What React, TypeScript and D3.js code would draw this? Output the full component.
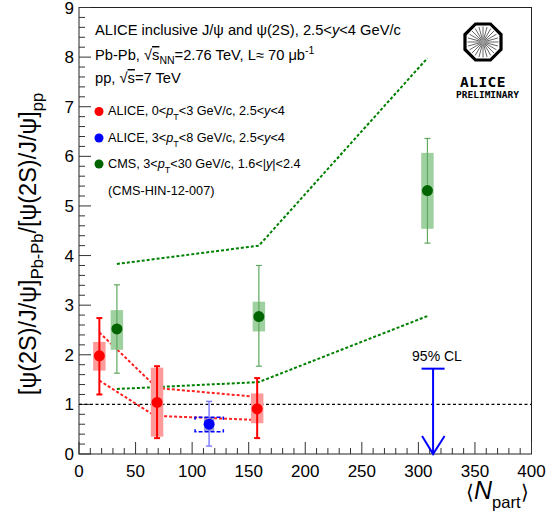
import React from "react";
import * as d3 from "d3";

// ---- data ----
const aliceLowNpart = [18, 69, 157.5];
const aliceLowVal = [1.98, 1.04, 0.91];
const aliceLowStatLo = [1.2, 0.32, 0.32];
const aliceLowStatHi = [2.74, 1.77, 1.53];
const aliceLowSysLo = [1.68, 0.35, 0.62];
const aliceLowSysHi = [2.26, 1.74, 1.22];

const aliceHighNpart = [115];
const aliceHighVal = [0.6];
const aliceHighStatLo = [0.16];
const aliceHighStatHi = [1.06];
const aliceHighSysLo = [0.45];
const aliceHighSysHi = [0.74];
const aliceHighSysNLo = [102.6];
const aliceHighSysNHi = [127.6];

const limitNpart = [313];
const limitVal = [1.72];

const cmsNpart = [33.5, 159, 308];
const cmsVal = [2.52, 2.77, 5.31];
const cmsStatLo = [1.63, 1.77, 4.25];
const cmsStatHi = [3.41, 3.8, 6.36];
const cmsSysLo = [2.1, 2.47, 4.54];
const cmsSysHi = [2.9, 3.07, 6.07];

const cmsUpperN = [33.5, 159, 308];
const cmsUpperV = [3.83, 4.2, 7.98];
const cmsLowerN = [33.5, 159, 308];
const cmsLowerV = [1.31, 1.45, 2.78];
const aliceUpperN = [18, 69, 153];
const aliceUpperV = [2.45, 1.33, 1.16];
const aliceLowerN = [18, 67, 153];
const aliceLowerV = [1.48, 0.77, 0.69];

const xTicks = [0, 50, 100, 150, 200, 250, 300, 350, 400];
const yTicks = [0, 1, 2, 3, 4, 5, 6, 7, 8, 9];

const W = 550, H = 512;
const L = 79, R = 531.5, T = 7.5, B = 454;

const x = d3.scaleLinear().domain([0, 400]).range([L, R]);
const y = d3.scaleLinear().domain([0, 9]).range([B, T]);

const FONT = "'Liberation Sans', Arial, Helvetica, sans-serif";

const RED = "#ff0000";
const RED_BOX = "#ff9a9a";
const GREEN = "#006400";
const GREEN_BOX = "#9fd09f";
const GREEN_ERR = "#5fa85f";
const BLUE = "#0000ff";

function line(ns: number[], vs: number[]) {
  return d3.line<number>().x((_, i) => x(ns[i])).y((v) => y(v))(vs) || "";
}

export default function App() {
  const xMinor = d3.range(0, 401, 10);
  const yMinor = d3.range(0, 9.001, 0.2);
  const halfBox = 5.5; // Npart units
  const cap = 3;

  const spokes = d3.range(0, 24).map((i) => (i * Math.PI * 2) / 24);
  const cx = 483, cy = 42, rOct = 19.5;
  const oct = d3.range(0, 8).map((i) => {
    const a = Math.PI / 8 + (i * Math.PI) / 4;
    return [cx + rOct * Math.cos(a), cy + rOct * Math.sin(a)];
  });

  return (
    <svg width={W} height={H} style={{ position: "absolute", left: 0, top: 0, background: "#fff" }} fontFamily={FONT}>
      <rect x={0} y={0} width={W} height={H} fill="#fff" />
      {/* frame */}
      <rect x={L} y={T} width={R - L} height={B - T} fill="none" stroke="#222" strokeWidth={1} />

      {/* ticks */}
      {xMinor.map((v) => (
        <line key={"xm" + v} x1={x(v)} x2={x(v)} y1={B} y2={B - (v % 50 === 0 ? 12 : 6)} stroke="#333" strokeWidth={1} />
      ))}
      {yMinor.map((v, i) => (
        <line key={"ym" + i} x1={L} x2={L + (i % 5 === 0 ? 12 : 6)} y1={y(v)} y2={y(v)} stroke="#333" strokeWidth={1} />
      ))}
      {xTicks.map((v) => (
        <text key={"xt" + v} x={x(v)} y={477} fontSize={17} textAnchor="middle">{v}</text>
      ))}
      {yTicks.map((v) => (
        <text key={"yt" + v} x={74} y={y(v) + 6} fontSize={17} textAnchor="end">{v}</text>
      ))}

      {/* axis titles */}
      <text x={466} y={499} fontSize={25}>
        <tspan fontSize={20}>⟨</tspan>
        <tspan fontStyle="italic">N</tspan>
        <tspan fontSize={16.5} dy={9}>part</tspan>
        <tspan fontSize={20} dy={-9}>⟩</tspan>
      </text>
      <text transform={`translate(36,${244}) rotate(-90)`} fontSize={23.5} textAnchor="middle">
        [ψ(2S)/J/ψ]<tspan fontSize={16.5} dy={7}>Pb-Pb</tspan>
        <tspan dy={-7}>/[ψ(2S)/J/ψ]</tspan>
        <tspan fontSize={16.5} dy={7}>pp</tspan>
      </text>

      {/* reference line at 1 */}
      <line x1={L} x2={R} y1={y(1)} y2={y(1)} stroke="#000" strokeWidth={1.2} strokeDasharray="3,2.5" />

      {/* model bands */}
      <path d={line(cmsUpperN, cmsUpperV)} fill="none" stroke="#008000" strokeWidth={2} strokeDasharray="3,2" />
      <path d={line(cmsLowerN, cmsLowerV)} fill="none" stroke="#008000" strokeWidth={2} strokeDasharray="3,2" />
      <path d={line(aliceUpperN, aliceUpperV)} fill="none" stroke="#ff2020" strokeWidth={2} strokeDasharray="3,2" />
      <path d={line(aliceLowerN, aliceLowerV)} fill="none" stroke="#ff2020" strokeWidth={2} strokeDasharray="3,2" />

      {/* CMS points */}
      {cmsNpart.map((n, i) => (
        <g key={"c" + i}>
          <rect x={x(n - halfBox)} width={x(n + halfBox) - x(n - halfBox)} y={y(cmsSysHi[i])} height={y(cmsSysLo[i]) - y(cmsSysHi[i])} fill={GREEN_BOX} />
          <line x1={x(n)} x2={x(n)} y1={y(cmsStatHi[i])} y2={y(cmsStatLo[i])} stroke={GREEN_ERR} strokeWidth={1.2} />
          <line x1={x(n) - cap} x2={x(n) + cap} y1={y(cmsStatHi[i])} y2={y(cmsStatHi[i])} stroke={GREEN_ERR} strokeWidth={1.2} />
          <line x1={x(n) - cap} x2={x(n) + cap} y1={y(cmsStatLo[i])} y2={y(cmsStatLo[i])} stroke={GREEN_ERR} strokeWidth={1.2} />
          <circle cx={x(n)} cy={y(cmsVal[i])} r={5.5} fill={GREEN} />
        </g>
      ))}

      {/* ALICE low pt */}
      {aliceLowNpart.map((n, i) => (
        <g key={"a" + i}>
          <rect x={x(n - halfBox)} width={x(n + halfBox) - x(n - halfBox)} y={y(aliceLowSysHi[i])} height={y(aliceLowSysLo[i]) - y(aliceLowSysHi[i])} fill={RED_BOX} />
          <line x1={x(n)} x2={x(n)} y1={y(aliceLowStatHi[i])} y2={y(aliceLowStatLo[i])} stroke={RED} strokeWidth={2} />
          <line x1={x(n) - cap} x2={x(n) + cap} y1={y(aliceLowStatHi[i])} y2={y(aliceLowStatHi[i])} stroke={RED} strokeWidth={2} />
          <line x1={x(n) - cap} x2={x(n) + cap} y1={y(aliceLowStatLo[i])} y2={y(aliceLowStatLo[i])} stroke={RED} strokeWidth={2} />
          <circle cx={x(n)} cy={y(aliceLowVal[i])} r={5.5} fill={RED} />
        </g>
      ))}

      {/* ALICE high pt */}
      {aliceHighNpart.map((n, i) => {
        const x0 = x(aliceHighSysNLo[i]), x1 = x(aliceHighSysNHi[i]);
        const yt = y(aliceHighSysHi[i]), yb = y(aliceHighSysLo[i]);
        return (
          <g key={"b" + i}>
            <rect x={x(n - 4.5)} width={x(n + 4.5) - x(n - 4.5)} y={yt} height={yb - yt} fill="#7a7ac8" opacity={0.75} />
            <line x1={x(n)} x2={x(n)} y1={y(aliceHighStatHi[i])} y2={y(aliceHighStatLo[i])} stroke="#8080ff" strokeWidth={1.5} />
            <line x1={x(n) - cap} x2={x(n) + cap} y1={y(aliceHighStatHi[i])} y2={y(aliceHighStatHi[i])} stroke="#8080ff" strokeWidth={1.5} />
            <line x1={x(n) - cap} x2={x(n) + cap} y1={y(aliceHighStatLo[i])} y2={y(aliceHighStatLo[i])} stroke="#8080ff" strokeWidth={1.5} />
            <path d={`M${x0},${yt + 2.5}V${yt}H${x1}V${yt + 2.5}M${x0},${yb - 2.5}V${yb}H${x1}V${yb - 2.5}`} fill="none" stroke={BLUE} strokeWidth={1.5} strokeDasharray="4,2" />
            <circle cx={x(n)} cy={y(aliceHighVal[i])} r={5.5} fill={BLUE} />
          </g>
        );
      })}

      {/* upper limit */}
      {limitNpart.map((n, i) => (
        <g key={"l" + i}>
          <line x1={x(n)} x2={x(n)} y1={y(limitVal[i])} y2={y(0)} stroke={BLUE} strokeWidth={2} />
          <line x1={x(n) - 11.5} x2={x(n) + 11.5} y1={y(limitVal[i])} y2={y(limitVal[i])} stroke={BLUE} strokeWidth={2} />
          <path d={`M${x(n) - 11},${y(0) - 18}L${x(n)},${y(0)}L${x(n) + 11.5},${y(0) - 18}`} fill="none" stroke={BLUE} strokeWidth={2} />
          <text x={x(n) - 21} y={360.5} fontSize={14}>95% CL</text>
        </g>
      ))}

      {/* legend text */}
      <g fontSize={14.7}>
        <text x={95} y={35}>ALICE inclusive J/ψ and ψ(2S), 2.5&lt;<tspan fontStyle="italic">y</tspan>&lt;4 GeV/c</text>
        <text x={95} y={60}>
          Pb-Pb, √<tspan style={{ textDecoration: "overline" }}>s</tspan><tspan fontSize={10.5} dy={4}>NN</tspan><tspan dy={-4}>=2.76 TeV, L≈ 70 μb</tspan><tspan fontSize={10.5} dy={-6}>-1</tspan>
        </text>
        <text x={95} y={83}>pp, √<tspan style={{ textDecoration: "overline" }}>s</tspan>=7 TeV</text>
      </g>
      <g fontSize={12.7}>
        <circle cx={99} cy={111.5} r={4.5} fill={RED} />
        <text x={108} y={115}>ALICE, 0&lt;<tspan fontStyle="italic">p</tspan><tspan fontSize={9} dy={5}>T</tspan><tspan dy={-5}>&lt;3 GeV/c, 2.5&lt;</tspan><tspan fontStyle="italic">y</tspan>&lt;4</text>
        <circle cx={99} cy={138} r={4.5} fill={BLUE} />
        <text x={108} y={141.5}>ALICE, 3&lt;<tspan fontStyle="italic">p</tspan><tspan fontSize={9} dy={5}>T</tspan><tspan dy={-5}>&lt;8 GeV/c, 2.5&lt;</tspan><tspan fontStyle="italic">y</tspan>&lt;4</text>
        <circle cx={99} cy={164} r={4.5} fill={GREEN} />
        <text x={108} y={167.5}>CMS, 3&lt;<tspan fontStyle="italic">p</tspan><tspan fontSize={9} dy={5}>T</tspan><tspan dy={-5}>&lt;30 GeV/c, 1.6&lt;|</tspan><tspan fontStyle="italic">y</tspan>|&lt;2.4</text>
        <text x={108} y={195}>(CMS-HIN-12-007)</text>
      </g>

      {/* ALICE logo */}
      <g>
        {spokes.map((a, i) => (
          <line key={"s" + i} x1={cx} y1={cy} x2={cx + 15.5 * Math.cos(a)} y2={cy + 15.5 * Math.sin(a)} stroke="#666" strokeWidth={1} />
        ))}
        <circle cx={cx} cy={cy} r={3} fill="#999" />
        <polygon points={oct.map((p) => p.join(",")).join(" ")} fill="none" stroke="#000" strokeWidth={3.2} />
        <text x={cx} y={87} fontSize={14.5} fontWeight="bold" textAnchor="middle" fontFamily="'DejaVu Sans Mono', monospace" letterSpacing={0.5}>ALICE</text>
        <text x={cx + 4.5} y={97.5} fontSize={9.5} fontWeight="bold" textAnchor="middle" fontFamily="'DejaVu Sans Mono', monospace">PRELIMINARY</text>
      </g>
    </svg>
  );
}
